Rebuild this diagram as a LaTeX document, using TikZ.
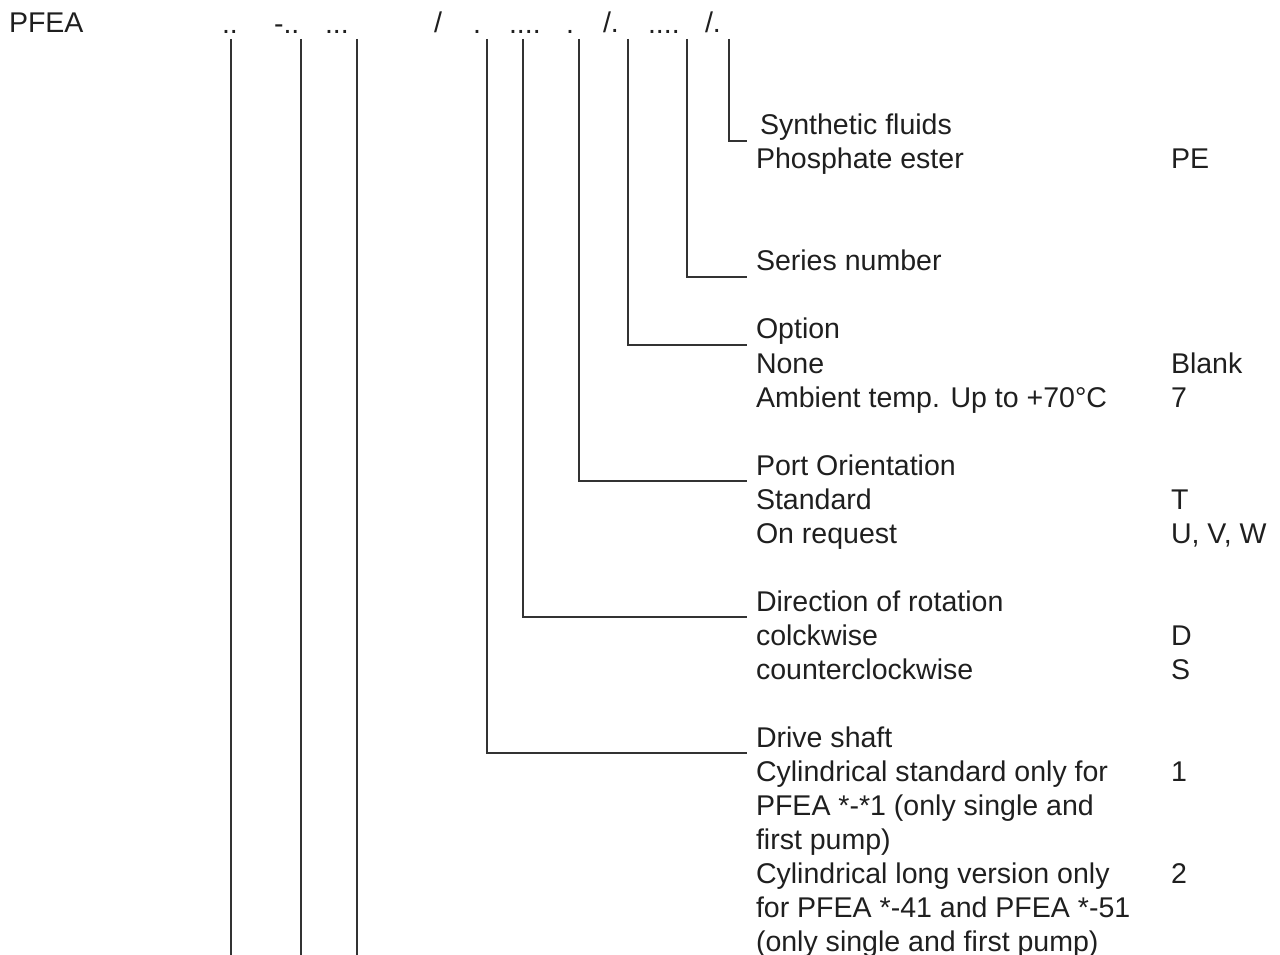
\documentclass[tikz,border=0pt]{standalone}
\usepackage{fontspec}
\setmainfont{Liberation Sans}
\begin{document}
\begin{tikzpicture}[x=0.75pt,y=-0.75pt,
  txt/.style={anchor=base west,inner sep=0pt,outer sep=0pt,text=black!88,font=\fontsize{21.4}{25.5}\selectfont},
  lead/.style={draw=black!80,line width=0.9pt}]
\useasboundingbox (0,0) rectangle (1280,955);
% header
\node[txt] (pfea) at (9,33) {PFEA};
\node[txt] (h1) at (222,34) {..};
\node[txt] (h2) at (274,34) {-..};
\node[txt] (h3) at (325,34) {...};
\node[txt] (h4) at (434,33) {/};
\node[txt] (h5) at (473,34) {.};
\node[txt] (h6) at (509,34) {....};
\node[txt] (h7) at (566,34) {.};
\node[txt] (h8) at (603,33) {/.};
\node[txt] (h9) at (648,34) {....};
\node[txt] (h10) at (705,33) {/.};
% descriptions
\node[txt] (syn) at (760,135) {Synthetic fluids};
\node[txt] (phos) at (756,169) {Phosphate ester};
\node[txt] (pe) at (1171,169) {PE};
\node[txt] (ser) at (756,271) {Series number};
\node[txt] (opt) at (756,339) {Option};
\node[txt] (none) at (756,373) {None};
\node[txt] (blank) at (1171,373) {Blank};
\node[txt] (amb) at (756,407) {Ambient temp. Up to +70°C};
\node[txt] (seven) at (1171,407) {7};
\node[txt] (port) at (756,475) {Port Orientation};
\node[txt] (std) at (756,509) {Standard};
\node[txt] (tcode) at (1171,509) {T};
\node[txt] (onreq) at (756,543) {On request};
\node[txt] (uvw) at (1171,543) {U, V, W};
\node[txt] (dir) at (756,611) {Direction of rotation};
\node[txt] (cw) at (756,645) {colckwise};
\node[txt] (dcode) at (1171,645) {D};
\node[txt] (ccw) at (756,679) {counterclockwise};
\node[txt] (scode) at (1171,679) {S};
\node[txt] (drive) at (756,747) {Drive shaft};
\node[txt] (cyl1) at (756,781) {Cylindrical standard only for};
\node[txt] (one) at (1171,781) {1};
\node[txt] (cyl1b) at (756,815) {PFEA *-*1 (only single and};
\node[txt] (cyl1c) at (756,849) {first pump)};
\node[txt] (cyl2) at (756,883) {Cylindrical long version only};
\node[txt] (two) at (1171,883) {2};
\node[txt] (cyl2b) at (756,917) {for PFEA *-41 and PFEA *-51};
\node[txt] (cyl2c) at (756,951) {(only single and first pump)};
% leader coordinates
\coordinate (t1) at (729,39);  \coordinate (e1) at (747,141);
\coordinate (t2) at (687,39);  \coordinate (e2) at (747,277);
\coordinate (t3) at (628,39);  \coordinate (e3) at (747,345);
\coordinate (t4) at (579,39);  \coordinate (e4) at (747,481);
\coordinate (t5) at (523,39);  \coordinate (e5) at (747,617);
\coordinate (t6) at (487,39);  \coordinate (e6) at (747,753);
\coordinate (t7) at (231,39);  \coordinate (b7) at (231,955);
\coordinate (t8) at (301,39);  \coordinate (b8) at (301,955);
\coordinate (t9) at (357,39);  \coordinate (b9) at (357,955);
\draw[lead] (t1) |- (e1);
\draw[lead] (t2) |- (e2);
\draw[lead] (t3) |- (e3);
\draw[lead] (t4) |- (e4);
\draw[lead] (t5) |- (e5);
\draw[lead] (t6) |- (e6);
\draw[lead] (t7) -- (b7);
\draw[lead] (t8) -- (b8);
\draw[lead] (t9) -- (b9);
\end{tikzpicture}
\end{document}
